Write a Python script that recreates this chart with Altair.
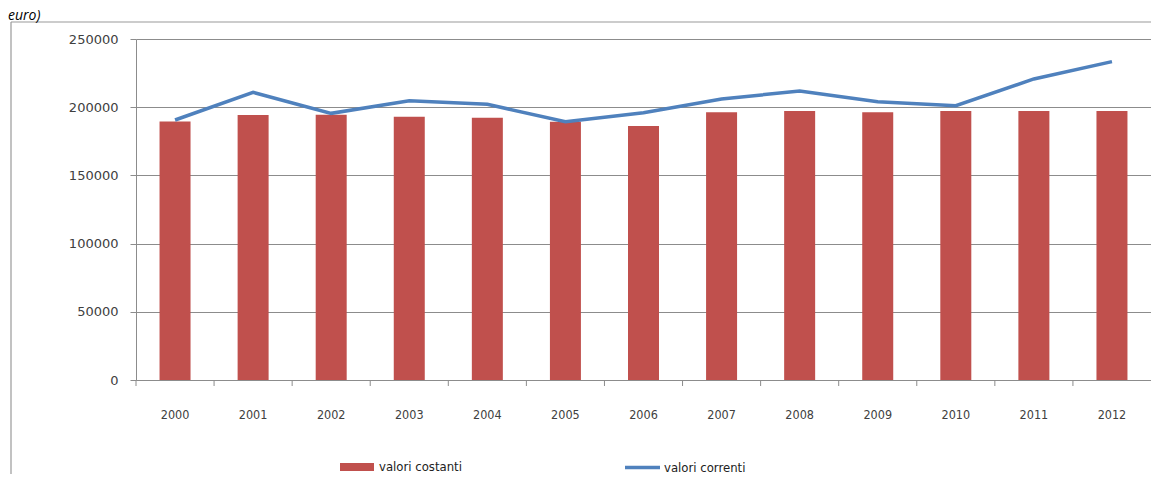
import altair as alt
import pandas as pd

years = ["2000", "2001", "2002", "2003", "2004", "2005", "2006",
         "2007", "2008", "2009", "2010", "2011", "2012"]
valori_costanti = [189500, 194300, 194500, 193000, 192300, 189400, 186200,
                   196300, 197200, 196300, 197200, 197200, 197200]
valori_correnti = [190600, 210900, 195500, 204800, 202100, 189400, 196000,
                   206000, 211900, 204000, 201100, 220700, 233400]
y_ticks = [0, 50000, 100000, 150000, 200000, 250000]

df = pd.DataFrame({"anno": years, "costanti": valori_costanti, "correnti": valori_correnti})

RED = "#C0504D"
BLUE = "#4F81BD"
GRID = "#8c8c8c"
W, H = 1015, 341
NARROW = "Liberation Sans Narrow, DejaVu Sans Condensed, sans-serif"

x_enc = alt.X("anno:O", title=None,
              scale=alt.Scale(paddingInner=0, paddingOuter=0),
              axis=alt.Axis(labelAngle=0, ticks=False, domain=True, domainColor=GRID,
                            labelFont=NARROW, labelFontSize=12.5, labelColor="#404040",
                            labelPadding=28))

y_scale = alt.Scale(domain=[0, 250000], nice=False)

base = alt.Chart(df)

bars = base.transform_calculate(serie="'valori costanti'").mark_bar(size=31).encode(
    x=x_enc,
    y=alt.Y("costanti:Q", title=None, scale=y_scale,
            axis=alt.Axis(values=y_ticks, format="d", grid=True, gridColor=GRID, gridWidth=1,
                          domainColor=GRID, tickColor=GRID, tickSize=6,
                          labelFont="DejaVu Sans", labelFontSize=13, labelColor="#404040",
                          labelPadding=12)),
    fill=alt.Fill("serie:N", scale=alt.Scale(domain=["valori costanti"], range=[RED]),
                  legend=alt.Legend(title=None, orient="none", legendX=204, legendY=411,
                                    symbolType="M-1,-0.24H1V0.24H-1Z", symbolSize=1156,
                                    symbolStrokeWidth=0, labelOffset=5, padding=0,
                                    labelFont=NARROW, labelFontSize=13, labelColor="#222222")),
)

line = base.transform_calculate(serie="'valori correnti'").mark_line(strokeWidth=3.5).encode(
    x=alt.X("anno:O"),
    y=alt.Y("correnti:Q", scale=y_scale),
    stroke=alt.Stroke("serie:N", scale=alt.Scale(domain=["valori correnti"], range=[BLUE]),
                      legend=alt.Legend(title=None, orient="none", legendX=487, legendY=409,
                                        symbolType="stroke", symbolSize=1225,
                                        symbolStrokeWidth=3.5, labelOffset=2, padding=0,
                                        labelFont=NARROW, labelFontSize=13, labelColor="#222222")),
)

ticks = base.mark_rule(color=GRID, strokeWidth=1).encode(
    x=alt.X("anno:O", bandPosition=0),
    y=alt.value(H),
    y2=alt.value(H + 6),
)

one = alt.Data(values=[{"k": 1}])
frame_top = alt.Chart(one).mark_rule(color="#999999", strokeWidth=1.2).encode(
    x=alt.value(-125), x2=alt.value(W + 40), y=alt.value(-17)
)
frame_left = alt.Chart(one).mark_rule(color="#999999", strokeWidth=1.2).encode(
    x=alt.value(-125), y=alt.value(-17), y2=alt.value(H + 200)
)

title_txt = alt.Chart(alt.Data(values=[{"t": "euro)"}])).mark_text(
    align="left", baseline="top", fontSize=14, fontStyle="italic",
    font="Open Sans", color="#000000"
).encode(text="t:N", x=alt.value(-128), y=alt.value(-30))

chart = alt.layer(frame_top, frame_left, bars, line, ticks, title_txt).resolve_scale(
    fill="independent", stroke="independent"
).properties(
    width=W, height=H,
    padding={"left": 128, "top": 31, "right": 0, "bottom": 94},
    autosize="none",
).configure_view(strokeWidth=0)

chart.save("out.html", embed_options={"renderer": "svg", "actions": False})
